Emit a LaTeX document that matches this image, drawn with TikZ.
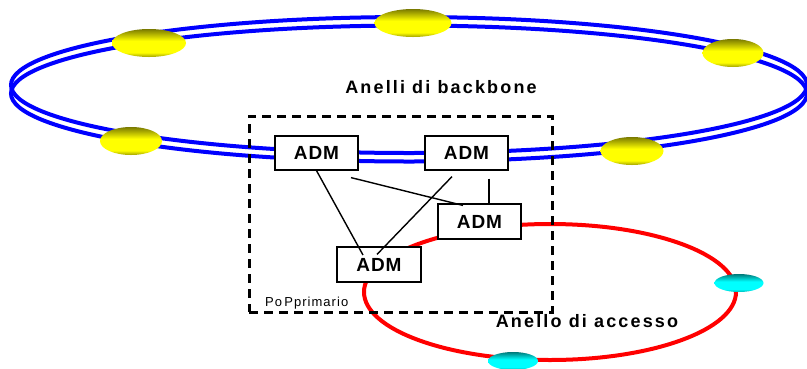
\documentclass[tikz,border=0pt]{standalone}
\usepackage{fontspec}
\setmainfont{Liberation Sans}
\newfontfamily\spacedfont[LetterSpace=12]{Liberation Sans}
\newfontfamily\smallfont[LetterSpace=8]{Liberation Sans}
\newfontfamily\admfont[LetterSpace=5]{Liberation Sans}
\usetikzlibrary{shapes.geometric,calc}
\definecolor{olivetop}{HTML}{7A7A00}
\definecolor{olivebot}{HTML}{A0A000}
\definecolor{tealtop}{HTML}{007A7A}
\definecolor{tealbot}{HTML}{00B0B0}
\pgfdeclareverticalshading{yellowball}{100bp}{color(0bp)=(olivebot); color(25bp)=(olivebot);
  color(33bp)=(yellow); color(54bp)=(yellow); color(75bp)=(olivetop); color(100bp)=(olivetop)}
\pgfdeclareverticalshading{cyanball}{100bp}{color(0bp)=(tealbot); color(25bp)=(tealbot);
  color(33bp)=(cyan); color(54bp)=(cyan); color(75bp)=(tealtop); color(100bp)=(tealtop)}
\begin{document}
\begin{tikzpicture}[x=1pt,y=-1pt,
  ringline/.style={line width=4pt, draw=blue},
  accessline/.style={line width=4pt, draw=red},
  yellownode/.style={ellipse, inner sep=0pt, minimum height=28pt, shading=yellowball},
  cyannode/.style={ellipse, inner sep=0pt, minimum width=49pt, minimum height=18pt, shading=cyanball},
  admbox/.style={draw=black, fill=white, line width=1.2pt, inner sep=0pt,
    minimum width=83pt, minimum height=34pt, font=\admfont\bfseries\fontsize{19}{21}\selectfont},
  popbox/.style={draw=black, line width=3pt, dash pattern=on 9pt off 6pt,
    inner sep=0pt, minimum width=303pt, minimum height=196pt},
  biglabel/.style={font=\spacedfont\bfseries\fontsize{18}{20}\selectfont, inner sep=0pt},
  smalllabel/.style={font=\smallfont\fontsize{13}{15}\selectfont, inner sep=0pt},
  link/.style={draw=black, line width=1.4pt}]
\useasboundingbox (0,0) rectangle (807,368);
% backbone double ring
\draw[ringline] (409,85) ellipse [x radius=398pt, y radius=68pt];
\draw[ringline] (409,93.5) ellipse [x radius=398pt, y radius=68pt];
% access ring
\draw[accessline] (550,292) ellipse [x radius=186pt, y radius=68pt];
% PoP box
\node[popbox] (pop) at (400.5,214) {};
% backbone nodes
\node[yellownode, minimum width=77pt] (y1) at (413,23) {};
\node[yellownode, minimum width=74pt] (y2) at (149,43) {};
\node[yellownode, minimum width=61pt] (y3) at (733,53) {};
\node[yellownode, minimum width=62pt] (y4) at (131,141) {};
\node[yellownode, minimum width=63pt] (y5) at (632,151) {};
% access nodes
\node[cyannode] (c1) at (739,283) {};
\node[cyannode, minimum width=50pt] (c2) at (513,361) {};
% ADMs
\node[admbox] (adm1) at (316.5,153) {ADM};
\node[admbox] (adm2) at (466.5,153) {ADM};
\node[admbox, minimum height=35pt] (adm3) at (479.5,221.5) {ADM};
\node[admbox, minimum width=84pt, minimum height=35pt] (adm4) at (379,264.5) {ADM};
% links
\draw[link] (adm1.south) -- ($(adm4.center)+(-16,-9.5)$);
\draw[link] ($(adm1.south)+(34.5,7)$) -- ($(adm3.north)+(-16.5,2)$);
\draw[link] ($(adm2.south)+(-14.5,6)$) -- ($(adm4.north)+(-2,8)$);
\draw[link] ($(adm2.south)+(22.5,8)$) -- ($(adm3.north)+(9.5,0)$);
% labels
\node[biglabel, anchor=base] (lb) at (441,93) {Anelli di backbone};
\node[biglabel, anchor=base] (la) at (587,327) {Anello di accesso};
\node[smalllabel, anchor=base west] (lp) at (265,306) {Po\,Pprimario};
\end{tikzpicture}
\end{document}
